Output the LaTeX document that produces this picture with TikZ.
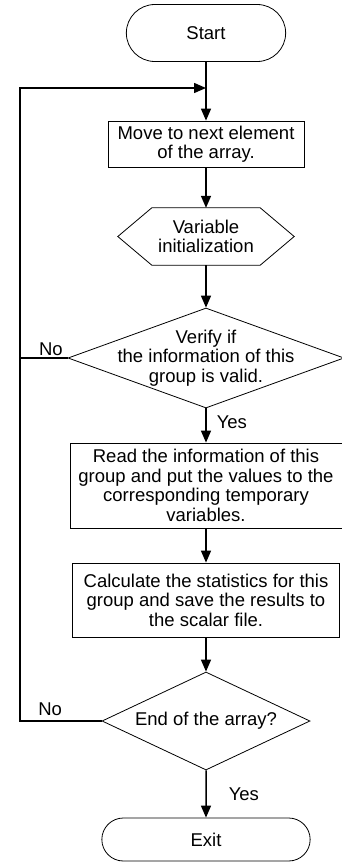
\documentclass[tikz,border=0pt]{standalone}
\usepackage{fontspec}
\setmainfont{Liberation Sans}
\usetikzlibrary{shapes.geometric,shapes.misc,arrows.meta}

\begin{document}
\begin{tikzpicture}[x=1pt, y=-1pt,
    every node/.style={font=\fontsize{18.5}{19.5}\selectfont},
    terminal/.style={draw, rounded rectangle, line width=0.8pt},
    process/.style={draw, rectangle, line width=0.8pt, align=center, inner sep=2pt},
    decision/.style={draw, diamond, line width=0.8pt, inner sep=0pt},
    flow/.style={line width=1.5pt, -{Triangle[length=12pt,width=10pt]}},
    plain/.style={line width=1.5pt},
    tag/.style={inner sep=2pt}]
    \useasboundingbox (0,0) rectangle (341,863);

    % Noeuds
    \node[terminal, minimum width=166pt, minimum height=57pt] (start) at (206,33) {Start};
    \coordinate (join) at (206,88);
    \node[process, minimum width=196pt, minimum height=46pt] (move) at (206,144) {Move to next element\\of the array.};
    \node[minimum width=176pt, minimum height=57pt, align=center, inner sep=0pt] (init) at (206,236.5) {Variable\\initialization};
    \draw[line width=0.8pt] (init.west) -- ([xshift=34pt]init.north west) -- ([xshift=-34pt]init.north east)
        -- (init.east) -- ([xshift=-34pt]init.south east) -- ([xshift=34pt]init.south west) -- cycle;
    \node[decision, minimum width=276pt, minimum height=100pt,
        label={[align=center]center:{Verify if\\the information of this\\group is valid.}}] (valid) at (206,358) {};
    \node[process, minimum width=272pt, minimum height=85pt] (read) at (206,485.5)
        {Read the information of this\\group and put the values to the\\corresponding temporary\\variables.};
    \node[process, minimum width=267pt, minimum height=74pt] (calc) at (206,600)
        {Calculate the statistics for this\\group and save the results to\\the scalar file.};
    \node[decision, minimum width=208pt, minimum height=98pt,
        label={center:{End of the array?}}] (endq) at (206,721) {};
    \node[terminal, minimum width=215pt, minimum height=43pt] (exit) at (206,839.5) {Exit};

    % Coins de la boucle
    \coordinate (loopA) at (20,358);
    \coordinate (loopB) at (20,721);
    \coordinate (loopC) at (20,88);

    % Fleches
    \draw[flow] (start.south) -- (move.north);
    \draw[flow] (move) -- (init);
    \draw[flow] (init) -- (valid);
    \draw[flow] (valid) -- node[tag, pos=0.4, right, xshift=8pt] {Yes} (read);
    \draw[flow] (read) -- (calc);
    \draw[flow] (calc) -- (endq);
    \draw[flow] (endq) -- node[tag, pos=0.5, right, xshift=20pt] {Yes} (exit);

    % Boucle
    \draw[plain] (valid.west) -- node[tag, pos=0.35, above] {No} (loopA);
    \draw[flow] (endq.west) -- node[tag, pos=0.63, above, yshift=3pt] {No} (loopB) -- (loopC) -- (join);
\end{tikzpicture}
\end{document}
